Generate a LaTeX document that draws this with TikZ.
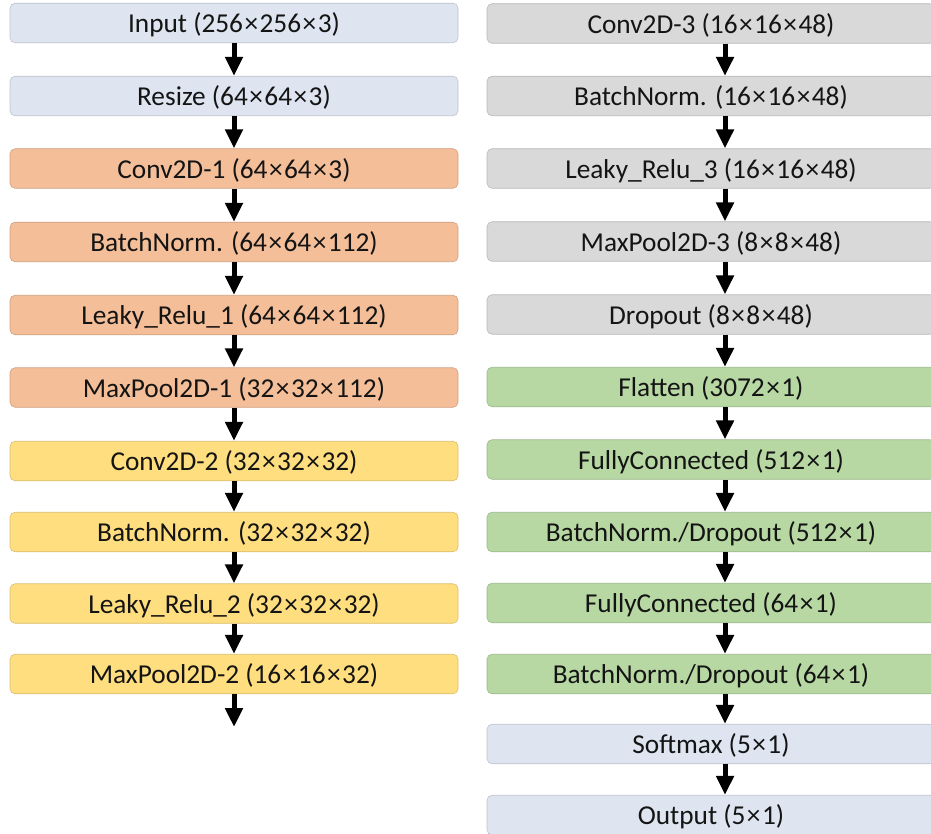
\documentclass[tikz,border=0pt]{standalone}
\usepackage{fontspec}
\setmainfont{Carlito}
\usetikzlibrary{arrows.meta}
\definecolor{cblue}{RGB}{222,229,240}
\definecolor{corange}{RGB}{244,190,152}
\definecolor{cyellow}{RGB}{255,222,128}
\definecolor{cgray}{RGB}{217,217,217}
\definecolor{cgreen}{RGB}{183,216,163}
\definecolor{ctext}{RGB}{20,20,20}
\newcommand{\tm}{\kern1.5pt×\kern1.5pt}
\tikzset{
  layer/.style={rectangle, rounded corners=5pt, minimum width=448pt, minimum height=39.5pt,
    inner sep=0pt, text height=19.5pt, text depth=0pt, text=ctext,
    font=\fontsize{27.3}{30}\selectfont, draw=#1!85!black, line width=0.6pt, fill=#1},
  flow/.style={line width=5pt, -{Triangle[width=17pt,length=19pt]}, black},
}
\begin{document}
\begin{tikzpicture}[x=1pt,y=-1pt]
\useasboundingbox (0,0) rectangle (931,834);
% left column
\node[layer=cblue]   (l1)  at (234,23)    {Input (256\tm256\tm3)};
\node[layer=cblue]   (l2)  at (234,96)    {Resize (64\tm64\tm3)};
\node[layer=corange] (l3)  at (234,168.5) {Conv2D-1 (64\tm64\tm3)};
\node[layer=corange] (l4)  at (234,242)   {BatchNorm. (64\tm64\tm112)};
\node[layer=corange] (l5)  at (234,315)   {Leaky\_Relu\_1 (64\tm64\tm112)};
\node[layer=corange] (l6)  at (234,387.5) {MaxPool2D-1 (32\tm32\tm112)};
\node[layer=cyellow] (l7)  at (234,461)   {Conv2D-2 (32\tm32\tm32)};
\node[layer=cyellow] (l8)  at (234,532)   {BatchNorm. (32\tm32\tm32)};
\node[layer=cyellow] (l9)  at (234,603.5) {Leaky\_Relu\_2 (32\tm32\tm32)};
\node[layer=cyellow] (l10) at (234,674)   {MaxPool2D-2 (16\tm16\tm32)};
\coordinate (lend) at (234,727);
% right column
\node[layer=cgray]  (r1)  at (711,23.5)  {Conv2D-3 (16\tm16\tm48)};
\node[layer=cgray]  (r2)  at (711,96)    {BatchNorm. (16\tm16\tm48)};
\node[layer=cgray]  (r3)  at (711,168.5) {Leaky\_Relu\_3 (16\tm16\tm48)};
\node[layer=cgray]  (r4)  at (711,241.5) {MaxPool2D-3 (8\tm8\tm48)};
\node[layer=cgray]  (r5)  at (711,314.5) {Dropout (8\tm8\tm48)};
\node[layer=cgreen] (r6)  at (711,387)   {Flatten (3072\tm1)};
\node[layer=cgreen] (r7)  at (711,459.5) {FullyConnected (512\tm1)};
\node[layer=cgreen] (r8)  at (711,532)   {BatchNorm./Dropout (512\tm1)};
\node[layer=cgreen] (r9)  at (711,603)   {FullyConnected (64\tm1)};
\node[layer=cgreen] (r10) at (711,674)   {BatchNorm./Dropout (64\tm1)};
\node[layer=cblue]  (r11) at (711,744)   {Softmax (5\tm1)};
\node[layer=cblue]  (r12) at (711,815)   {Output (5\tm1)};
\coordinate (ax) at (725,0);
% left arrows
\foreach \a/\b in {l1/l2,l2/l3,l3/l4,l4/l5,l5/l6,l6/l7,l7/l8,l8/l9,l9/l10}
  \draw[flow] (\a.south) -- (\b.north);
\draw[flow] (l10.south) -- (lend);
% right arrows
\foreach \a/\b in {r1/r2,r2/r3,r3/r4,r4/r5,r5/r6,r6/r7,r7/r8,r8/r9,r9/r10,r10/r11,r11/r12}
  \draw[flow] (\a.south -| ax) -- (\b.north -| ax);
\end{tikzpicture}
\end{document}
